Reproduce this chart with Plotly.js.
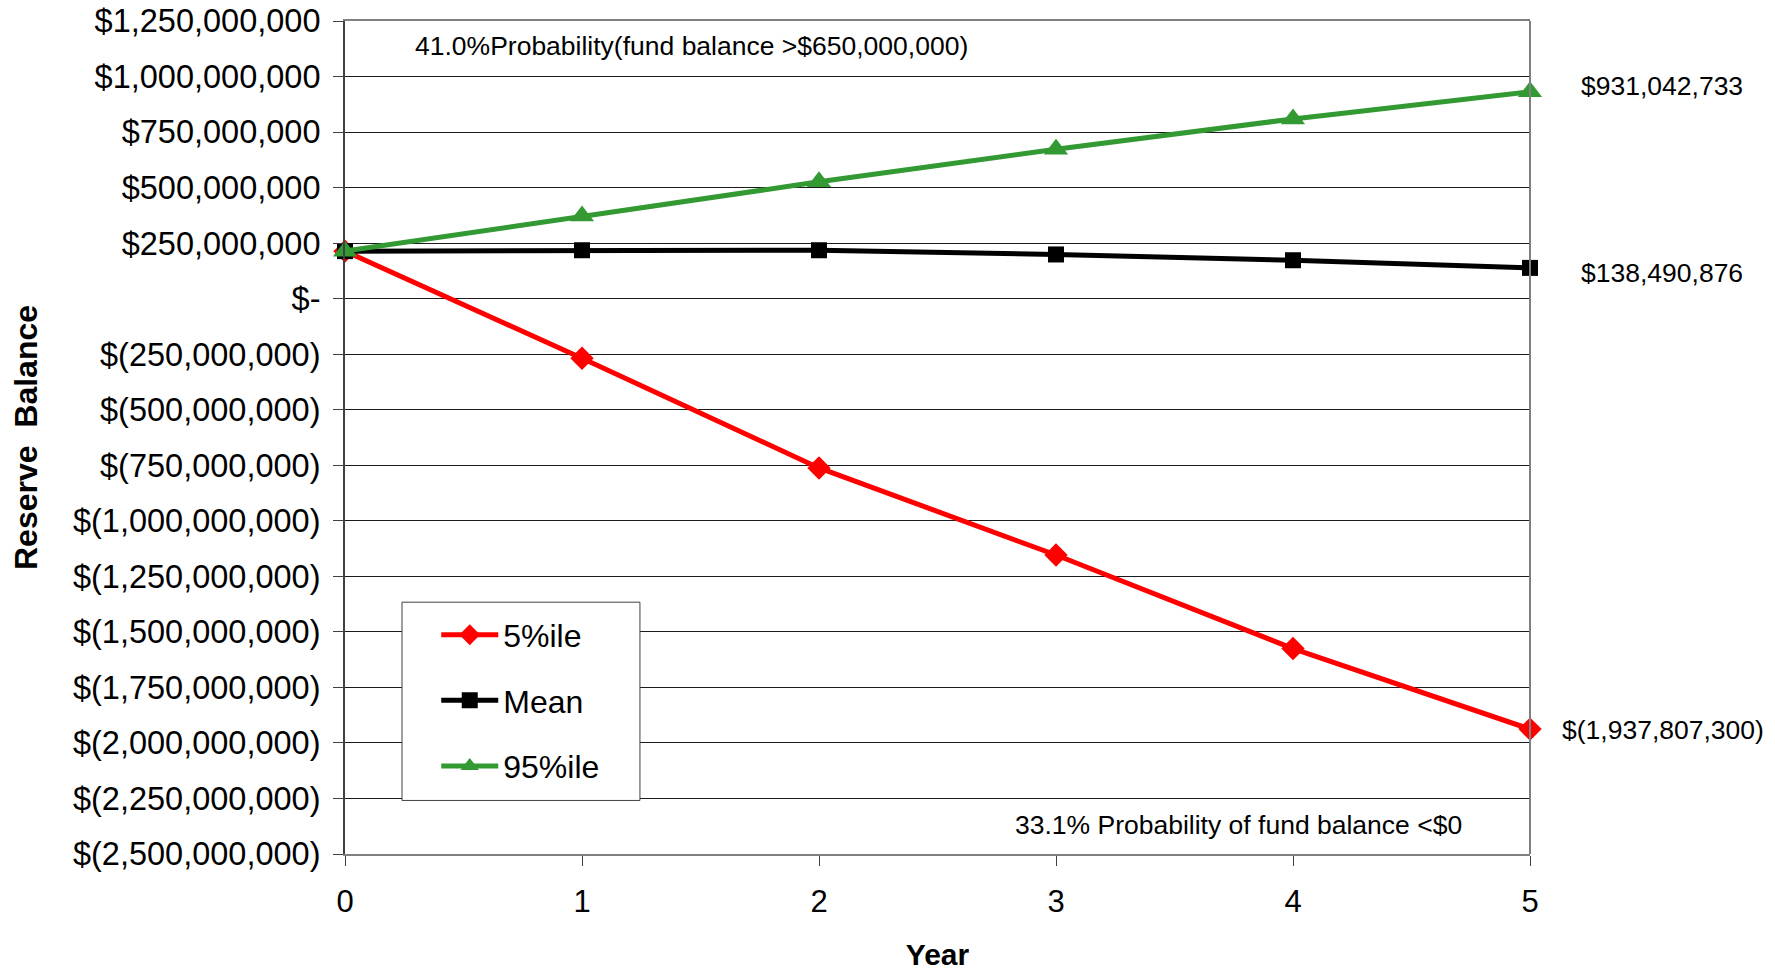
<!DOCTYPE html>
<html>
<head>
<meta charset="utf-8">
<script src="https://cdn.plot.ly/plotly-3.0.1.min.js"></script>
<style>
  html, body { margin: 0; padding: 0; background: #fff; }
  #chart { width: 1775px; height: 971px; }
</style>
</head>
<body>
<div id="chart"></div>
<script>
// Projected reserve balance by year
const years = [0, 1, 2, 3, 4, 5];
const pct5 = [214000000, -268000000, -762000000, -1154000000, -1575000000, -1937807300];
const meanBal = [214000000, 218000000, 218000000, 199000000, 173000000, 138490876];
const pct95 = [214000000, 372000000, 526000000, 673000000, 809000000, 931042733];

const seriesNames = ['5%ile', 'Mean', '95%ile'];

const yTickVals = [1250000000, 1000000000, 750000000, 500000000, 250000000, 0,
  -250000000, -500000000, -750000000, -1000000000, -1250000000, -1500000000,
  -1750000000, -2000000000, -2250000000, -2500000000];
const yTickText = ['$1,250,000,000', '$1,000,000,000', '$750,000,000', '$500,000,000',
  '$250,000,000', '$-', '$(250,000,000)', '$(500,000,000)', '$(750,000,000)',
  '$(1,000,000,000)', '$(1,250,000,000)', '$(1,500,000,000)', '$(1,750,000,000)',
  '$(2,000,000,000)', '$(2,250,000,000)', '$(2,500,000,000)'];

const noteHigh = '41.0%Probability(fund balance >$650,000,000)';
const noteLow = '33.1% Probability of fund balance <$0';

const FONT = 'Liberation Sans, Arial, Helvetica, sans-serif';

// accounting-style currency text, negatives in parentheses
function money(v) {
  const s = Math.round(Math.abs(v)).toLocaleString('en-US');
  return v < 0 ? '$(' + s + ')' : '$' + s;
}

const traces = [
  {
    x: years, y: pct5, name: seriesNames[0], type: 'scatter', mode: 'lines+markers',
    line: { color: '#ff0000', width: 5 },
    marker: { symbol: 'diamond', size: 18, color: '#ff0000' },
    cliponaxis: false, legendgroup: 'a'
  },
  {
    x: years, y: meanBal, name: seriesNames[1], type: 'scatter', mode: 'lines+markers',
    line: { color: '#000000', width: 5 },
    marker: { symbol: 'square', size: 16, color: '#000000' },
    cliponaxis: false, legendgroup: 'b'
  },
  {
    x: years, y: pct95, name: seriesNames[2], type: 'scatter', mode: 'lines+markers',
    line: { color: '#339933', width: 5 },
    marker: { symbol: 'triangle-up', size: 21, color: '#339933' },
    cliponaxis: false, legendgroup: 'c'
  }
];

const last = years.length - 1;

const layout = {
  width: 1775, height: 971,
  margin: { l: 345, r: 245, t: 21, b: 117 },
  paper_bgcolor: '#ffffff', plot_bgcolor: '#ffffff',
  font: { family: FONT, color: '#000000', size: 26 },
  showlegend: true,
  legend: {
    x: 0.077, y: 0.296, xanchor: 'left', yanchor: 'top',
    bgcolor: 'rgba(0,0,0,0)', borderwidth: 0,
    font: { family: FONT, size: 32, color: '#000' },
    tracegroupgap: 21, itemwidth: 57, traceorder: 'grouped'
  },
  xaxis: {
    range: [0, 5], tickvals: years, ticktext: years.map(String),
    showgrid: false, zeroline: false,
    showline: true, linecolor: '#808080', linewidth: 2, mirror: true,
    ticks: 'outside', ticklen: 10, tickcolor: '#404040',
    ticklabelstandoff: 9,
    tickfont: { family: FONT, size: 31, color: '#000' },
    title: { text: '<b>Year</b>', font: { family: FONT, size: 30, color: '#000' }, standoff: 31 },
    fixedrange: true
  },
  yaxis: {
    range: [-2500000000, 1250000000], tickvals: yTickVals, ticktext: yTickText,
    showgrid: true, gridcolor: '#1a1a1a', gridwidth: 1, zeroline: false,
    showline: true, linecolor: '#404040', linewidth: 2,
    ticks: 'outside', ticklen: 10, tickcolor: '#404040',
    ticklabelstandoff: 6,
    tickfont: { family: FONT, size: 32.5, color: '#000' },
    title: { text: '<b>Reserve  Balance</b>', font: { family: FONT, size: 32, color: '#000' }, standoff: 26 },
    fixedrange: true
  },
  shapes: [
    // right border of the plot area
    { type: 'line', xref: 'paper', yref: 'paper', x0: 1, x1: 1, y0: 0, y1: 1,
      line: { color: '#808080', width: 2 } },
    // legend frame
    { type: 'rect', xref: 'paper', yref: 'paper', x0: 0.0481, x1: 0.2489, y0: 0.0643, y1: 0.3023,
      fillcolor: '#ffffff', line: { color: '#404040', width: 1 }, layer: 'above' }
  ],
  annotations: [
    { xref: 'paper', yref: 'paper', x: 0.292, y: 0.970, text: noteHigh, showarrow: false,
      xanchor: 'center', yanchor: 'middle', font: { family: FONT, size: 26.5, color: '#000' } },
    { xref: 'paper', yref: 'paper', x: 0.7544, y: 0.0343, text: noteLow, showarrow: false,
      xanchor: 'center', yanchor: 'middle', font: { family: FONT, size: 26.5, color: '#000' } },
    { xref: 'paper', yref: 'y', x: 1.0414, y: pct95[last], yshift: 6, text: money(pct95[last]),
      showarrow: false, xanchor: 'left', yanchor: 'middle', font: { family: FONT, size: 26.5, color: '#000' } },
    { xref: 'paper', yref: 'y', x: 1.0414, y: meanBal[last], yshift: -5, text: money(meanBal[last]),
      showarrow: false, xanchor: 'left', yanchor: 'middle', font: { family: FONT, size: 26.5, color: '#000' } },
    { xref: 'paper', yref: 'y', x: 1.0253, y: pct5[last], yshift: -1, text: money(pct5[last]),
      showarrow: false, xanchor: 'left', yanchor: 'middle', font: { family: FONT, size: 26.5, color: '#000' } }
  ]
};

Plotly.newPlot('chart', traces, layout, { displayModeBar: false, staticPlot: true });
</script>
</body>
</html>
